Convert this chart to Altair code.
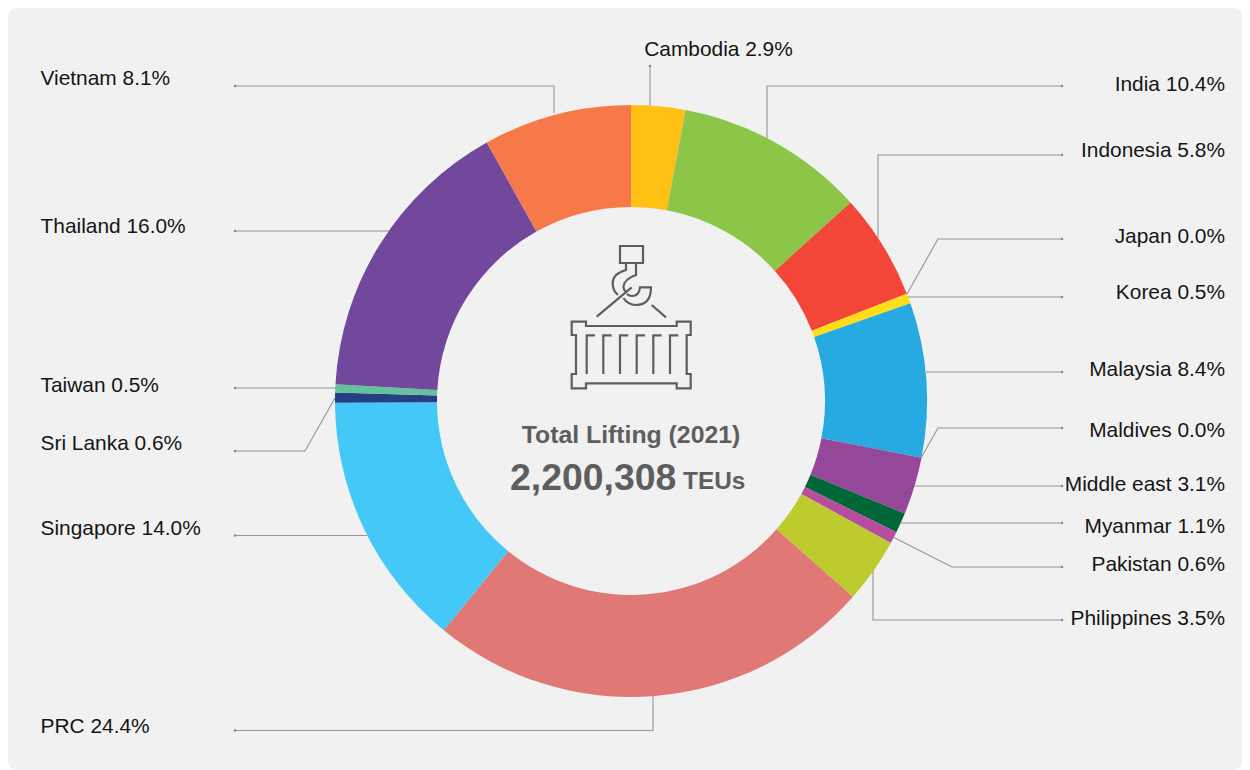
import altair as alt
import pandas as pd

COUNTRIES = ["Cambodia", "India", "Indonesia", "Japan", "Korea", "Malaysia", "Maldives", "Middle east",
             "Myanmar", "Pakistan", "Philippines", "PRC", "Singapore", "Sri Lanka", "Taiwan", "Thailand", "Vietnam"]
LABEL_PCT = ["2.9", "10.4", "5.8", "0.0", "0.5", "8.4", "0.0", "3.1",
             "1.1", "0.6", "3.5", "24.4", "14.0", "0.6", "0.5", "16.0", "8.1"]
SHARES = [2.95, 10.35, 5.8, 0.0, 0.55, 8.42, 0.0, 3.14, 1.1, 0.65, 3.55, 24.4, 14.0, 0.55, 0.45, 16.0, 8.1]
COLORS = ["#FFC013", "#8DC549", "#F24638", "#BBBBBB", "#FFDD17", "#27AAE2", "#BBBBBB", "#95479A",
          "#006838", "#B84C9E", "#BDCB2F", "#E07876", "#43C8F8", "#263F82", "#63C29B", "#72489C", "#F7794A"]
LABEL_X = [718.5, 1225, 1225, 1225, 1225, 1225, 1225, 1225, 1225, 1225, 1225, 40.5, 40.5, 40.5, 40.5, 40.5, 40.5]
LABEL_Y = [50, 85, 151, 237, 293, 370, 431, 485, 527, 565, 619, 727, 529, 444, 386, 227, 79]
LEADER_X = [[650, 650], [1062, 767, 767], [1062, 878, 878], [1062, 938, 907], [1062, 908], [1062, 926],
            [1062, 938, 921], [1062, 914], [1062, 900], [1062, 952, 893], [1062, 873, 873], [235, 653, 653],
            [235, 367], [235, 305, 335], [235, 336], [235, 389], [235, 554, 554]]
LEADER_Y = [[66, 106], [86, 86, 138], [155, 155, 238], [239, 239, 294], [297, 297], [372, 372],
            [428, 428, 458], [486, 486], [523, 523], [567, 567, 537], [620, 620, 571], [730.5, 730.5, 696],
            [535.5, 535.5], [451, 451, 398], [388, 388], [231, 231], [86, 86, 113]]

CENTER_TEXT = ["Total Lifting (2021)", "2,200,308", "TEUs"]
CENTER_X = [631, 510, 683]
CENTER_Y = [435.5, 478.5, 482]
CENTER_SIZE = [24.8, 37.4, 24.4]
CENTER_ALIGN = ["center", "left", "left"]

PANEL = "#F1F1F1"
INK = "#5E5E5E"
OX, OY = 8, 8
W, H = 1234, 762
RING_X, RING_Y, R_OUT, R_IN = 631, 401, 296, 194
ICON_X, ICON_Y = 631, 320

x_scale = alt.Scale(domain=[OX, OX + W], range=[0, W])
y_scale = alt.Scale(domain=[OY, OY + H], range=[0, H])
X = lambda f: alt.X(f, type="quantitative", scale=x_scale, axis=None)
Y = lambda f: alt.Y(f, type="quantitative", scale=y_scale, axis=None)

slices = pd.DataFrame({"country": COUNTRIES, "share": SHARES, "idx": range(len(COUNTRIES))})
ring = alt.Chart(slices).mark_arc(radius=R_OUT, radius2=R_IN, strokeWidth=0).encode(
    theta=alt.Theta("share:Q", stack=True, scale=alt.Scale(domain=[0, sum(SHARES)], range=[0, 6.283185307])),
    order=alt.Order("idx:Q"),
    color=alt.Color("country:N", scale=alt.Scale(domain=COUNTRIES, range=COLORS), legend=None),
    x=alt.value(RING_X - OX),
    y=alt.value(RING_Y - OY),
)

leader_rows = [
    {"country": c, "seq": i, "px": px, "py": py}
    for c, xs, ys in zip(COUNTRIES, LEADER_X, LEADER_Y)
    for i, (px, py) in enumerate(zip(xs, ys))
]
leaders_df = pd.DataFrame(leader_rows)
leaders = alt.Chart(leaders_df).mark_line(color="#949494", strokeWidth=1.1).encode(
    x=X("px"), y=Y("py"), detail="country:N", order="seq:Q"
)
dots = alt.Chart(leaders_df[leaders_df.seq == 0]).mark_point(
    filled=True, color="#8A8A8A", size=7, opacity=1
).encode(x=X("px"), y=Y("py"))

labels_df = pd.DataFrame({
    "text": [f"{c} {p}%" for c, p in zip(COUNTRIES, LABEL_PCT)],
    "lx": LABEL_X, "ly": LABEL_Y,
})
def label_layer(sel, align):
    return alt.Chart(labels_df[sel]).mark_text(
        align=align, baseline="middle", font="Liberation Sans", fontSize=20.9, color="#151515"
    ).encode(x=X("lx"), y=Y("ly"), text="text:N")
labels = (label_layer(labels_df.lx == 718.5, "center")
          + label_layer(labels_df.lx == 1225, "right")
          + label_layer(labels_df.lx == 40.5, "left"))

center_df = pd.DataFrame({"t": CENTER_TEXT, "cx": CENTER_X, "cy": CENTER_Y, "s": CENTER_SIZE, "a": CENTER_ALIGN})
center_layers = [
    alt.Chart(center_df.iloc[[i]]).mark_text(
        align=CENTER_ALIGN[i], baseline="middle", font="Liberation Sans", fontWeight="bold",
        fontSize=CENTER_SIZE[i], color=INK
    ).encode(x=X("cx"), y=Y("cy"), text="t:N")
    for i in range(len(CENTER_TEXT))
]

# Icon: an SVG symbol whose path is written in reference pixels around (ICON_X, ICON_Y)
def pt(x, y):
    return f"{round(x - ICON_X, 1)},{round(y - ICON_Y, 1)}"

icon = []
icon.append(f"M{pt(620,246)}L{pt(643,246)}L{pt(643,263)}L{pt(620,263)}Z")
icon.append(f"M{pt(626,263)}L{pt(626,270)}Q{pt(612,274)} {pt(612.7,284)}Q{pt(613,291)} {pt(618,295)}")
icon.append(f"M{pt(636,263)}L{pt(636,275)}Q{pt(624,279)} {pt(623.5,287)}Q{pt(623.5,290)} {pt(626,292)}")
icon.append(f"M{pt(623.5,298)}Q{pt(628,305)} {pt(636,305)}Q{pt(651,305)} {pt(651,287.3)}L{pt(640,287.3)}"
            f"Q{pt(639,296)} {pt(632,296)}Q{pt(629,296)} {pt(627,294)}")
icon.append(f"M{pt(596.7,316.7)}L{pt(631.7,287.3)}")
icon.append(f"M{pt(651.7,305)}L{pt(666,317.3)}")
outline = [(571.7,321.7),(586,321.7),(586,326),(676.7,326),(676.7,321.7),(690.7,321.7),(690.7,335),(686.7,335),
           (686.7,374),(690.7,374),(690.7,388.3),(676.7,388.3),(676.7,383.3),(586,383.3),(586,388.3),(571.7,388.3),
           (571.7,374),(576,374),(576,335),(571.7,335)]
icon.append("M" + "L".join(pt(*p) for p in outline) + "Z")
for rx in [586.7, 603.3, 620, 636.7, 653.3, 670]:
    icon.append(f"M{pt(rx,374)}L{pt(rx,335.3)}L{pt(rx+8.3,335.3)}")
ICON_PATH = "".join(icon).replace(" ", ",")

icon_mark = alt.Chart(pd.DataFrame({"ix": [ICON_X], "iy": [ICON_Y]})).mark_point(
    shape=ICON_PATH, size=4, filled=False, stroke=INK, strokeWidth=2.2, opacity=1
).encode(x=X("ix"), y=Y("iy"))

chart = alt.layer(ring, leaders, dots, labels, *center_layers, icon_mark).properties(
    width=W, height=H, padding=0, background="white"
).configure_view(fill=PANEL, stroke=None, cornerRadius=8)

chart.save("out.html", embed_options={"renderer": "svg", "actions": False})
